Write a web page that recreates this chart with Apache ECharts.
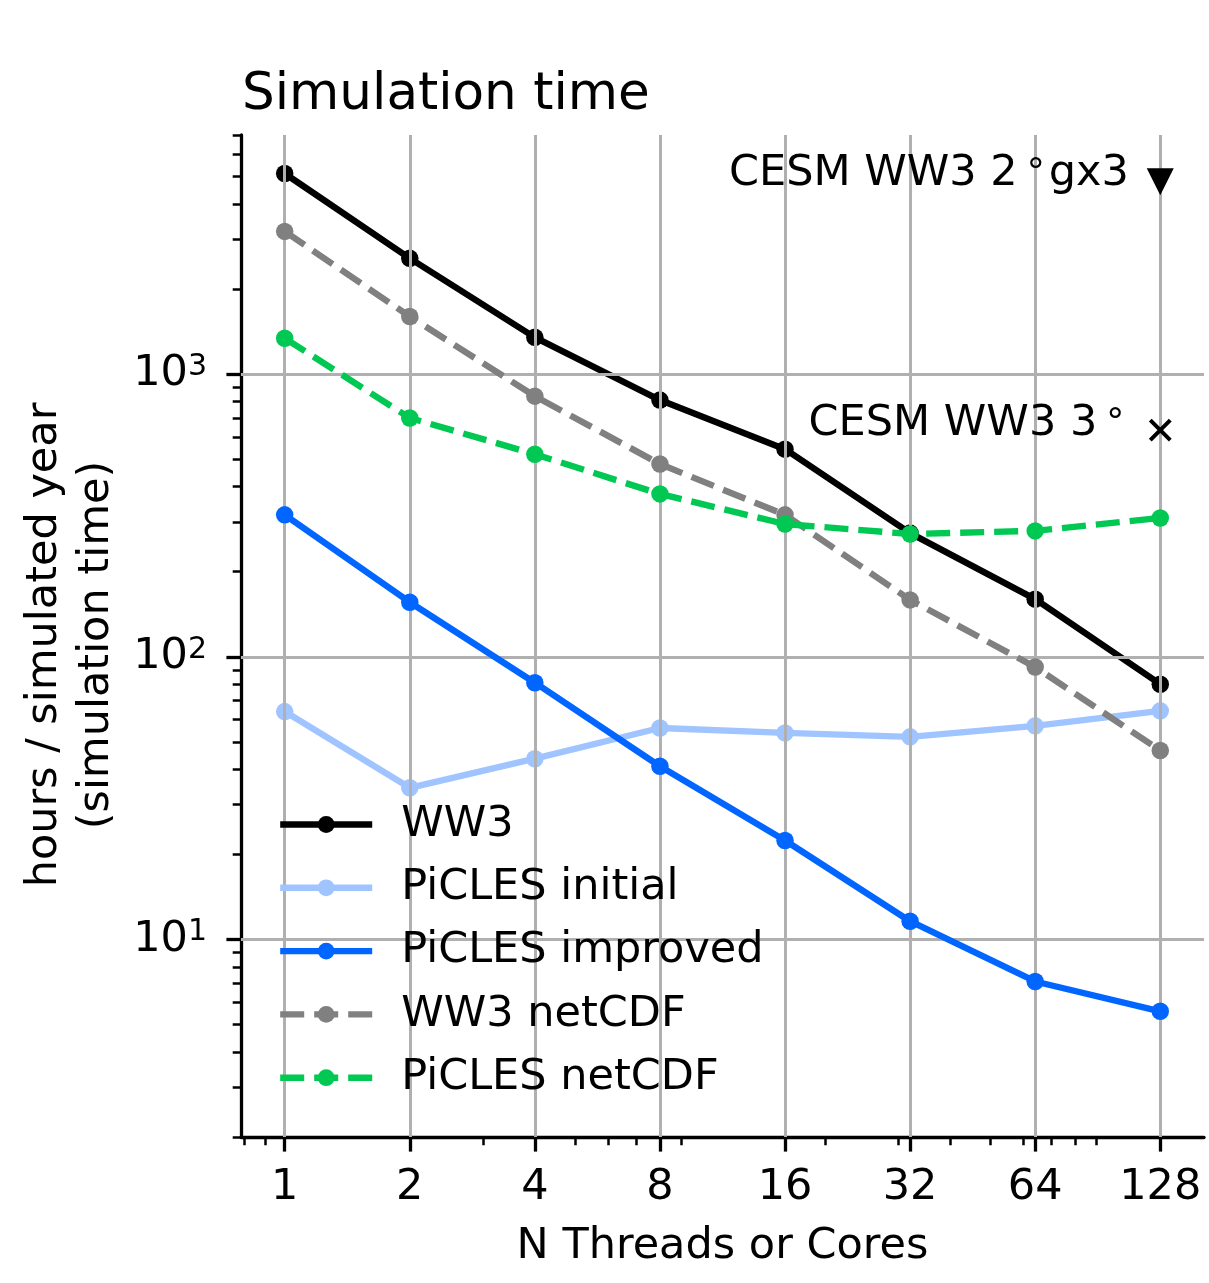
<!DOCTYPE html>
<html>
<head>
<meta charset="utf-8">
<title>Simulation time</title>
<script src="https://cdn.jsdelivr.net/npm/echarts@6/dist/echarts.min.js"></script>
<style>
  html, body { margin: 0; padding: 0; background: #ffffff; }
  #chart { width: 1209px; height: 1283px; }
</style>
</head>
<body>
<div id="chart"></div>
<script>
// Thread / core counts on the x axis
const threads = [1, 2, 4, 8, 16, 32, 64, 128];

// Hours per simulated year for each configuration
const ww3            = [5130, 2570, 1350, 810, 543, 274, 160, 80];
const piclesInitial  = [64, 34.4, 43.6, 56, 53.8, 52.1, 57, 64.4];
const piclesImproved = [318, 156, 81, 41, 22.4, 11.6, 7.1, 5.57];
const ww3NetCDF      = [3200, 1600, 836, 481, 318, 159, 92, 46.6];
const piclesNetCDF   = [1340, 700, 521, 377, 295, 272, 279, 310];

// Reference CESM runs at 128 cores
const cesmGx3Point = [128, 4800];
const cesm3degPoint = [128, 634];

// Tick positions
const xMajorTicks = [1, 2, 4, 8, 16, 32, 64, 128];
const xMinorTicks = [0.8, 0.9, 3, 5, 6, 7, 9, 20, 30, 40, 50, 60, 70, 80, 90];
const yMajorTicks = [10, 100, 1000];
const yMinorTicks = [2, 3, 4, 5, 6, 7, 8, 9,
                     20, 30, 40, 50, 60, 70, 80, 90,
                     200, 300, 400, 500, 600, 700, 800, 900,
                     2000, 3000, 4000, 5000, 6000, 7000];

const FONT = 'DejaVu Sans';
const FS = 43;
const LW = 6.4;
const GRID_COLOR = '#b0b0b0';
const X_MIN = 0.785, X_MAX = 163.1;
const Y_MIN = 2, Y_MAX = 7020;

function toPoints(vals) {
  return threads.map((t, i) => [t, vals[i]]);
}

function lineSeries(name, vals, color, dashed, z) {
  return {
    type: 'line',
    name: name,
    data: toPoints(vals),
    symbol: 'circle',
    symbolSize: 17.5,
    showSymbol: true,
    z: z,
    lineStyle: { color: color, width: LW, type: dashed ? [24, 10] : 'solid', cap: 'butt' },
    itemStyle: { color: color, borderWidth: 0, opacity: 1 },
    emphasis: { disabled: true },
    silent: true,
    animation: false
  };
}

// label style shared by the two CESM annotations; the degree ring is a smaller raised glyph
function cesmLabel(text, distance, dy) {
  return {
    show: true,
    position: 'left',
    distance: distance,
    offset: [0, dy],
    formatter: text,
    fontFamily: FONT, fontSize: FS, color: '#000', lineHeight: 43,
    rich: {
      d: { fontFamily: FONT, fontSize: 36, color: '#000', padding: [0, 4, 0, 9] }
    }
  };
}

const chart = echarts.init(document.getElementById('chart'), null, { renderer: 'canvas' });

const option = {
  backgroundColor: '#ffffff',
  animation: false,
  textStyle: { fontFamily: FONT },
  title: {
    text: 'Simulation time',
    left: 242,
    top: 70,
    padding: 0,
    textStyle: { fontFamily: FONT, fontSize: 51.6, fontWeight: 'normal', color: '#000', lineHeight: 52 }
  },
  grid: {
    left: 241, right: 5, top: 135, bottom: 146,
    containLabel: false,
    outerBoundsMode: 'none'
  },
  legend: {
    data: ['WW3', 'PiCLES initial', 'PiCLES improved', 'WW3 netCDF', 'PiCLES netCDF'],
    orient: 'vertical',
    left: 277,
    top: 803,
    padding: 0,
    z: 10,
    itemWidth: 92,
    itemHeight: 21,
    itemGap: 20.3,
    selectedMode: false,
    lineStyle: { width: LW },
    textStyle: { fontFamily: FONT, fontSize: FS, color: '#000', lineHeight: 43, padding: [0, 0, 0, 24] }
  },
  xAxis: [
    {
      type: 'log',
      logBase: 2,
      position: 'bottom',
      min: X_MIN,
      max: X_MAX,
      splitNumber: 8,
      name: 'N Threads or Cores',
      nameLocation: 'middle',
      nameGap: 88,
      nameTextStyle: { fontFamily: FONT, fontSize: FS, color: '#000', lineHeight: 43 },
      axisLine: { show: true, onZero: false, lineStyle: { color: '#000', width: 3.3 } },
      axisTick: { show: true, customValues: xMajorTicks, length: 14.6, lineStyle: { color: '#000', width: 3.3 } },
      axisLabel: {
        show: true, customValues: xMajorTicks, margin: 29,
        fontFamily: FONT, fontSize: FS, color: '#000', lineHeight: 43,
        formatter: v => String(Math.round(v))
      },
      splitLine: { show: false },
      minorTick: { show: false },
      minorSplitLine: { show: false }
    },
    {
      // minor ticks only
      type: 'log',
      logBase: 2,
      position: 'bottom',
      min: X_MIN,
      max: X_MAX,
      splitNumber: 8,
      axisLine: { show: false },
      axisTick: { show: true, customValues: xMinorTicks, length: 8.3, lineStyle: { color: '#000', width: 2.5 } },
      axisLabel: { show: false },
      splitLine: { show: false }
    }
  ],
  yAxis: [
    {
      type: 'log',
      logBase: 10,
      position: 'left',
      min: Y_MIN,
      max: Y_MAX,
      name: 'hours / simulated year\n(simulation time)',
      nameLocation: 'middle',
      nameRotate: 90,
      nameGap: 118,
      nameTextStyle: { fontFamily: FONT, fontSize: FS, color: '#000', lineHeight: 51.6, align: 'center',
                       padding: [0, 18, 0, 0] },
      axisLine: { show: true, onZero: false, lineStyle: { color: '#000', width: 3.3 } },
      axisTick: { show: true, customValues: yMajorTicks, length: 14.6, lineStyle: { color: '#000', width: 3.3 } },
      axisLabel: {
        show: true, customValues: yMajorTicks, margin: 34,
        color: '#000',
        formatter: v => '{b|10}{s|' + Math.round(Math.log10(v)) + '}',
        rich: {
          b: { fontFamily: FONT, fontSize: FS, color: '#000', lineHeight: 44 },
          s: { fontFamily: FONT, fontSize: 30, color: '#000', lineHeight: 21, verticalAlign: 'top' }
        }
      },
      splitLine: { show: false },
      minorTick: { show: false },
      minorSplitLine: { show: false }
    },
    {
      // minor ticks only
      type: 'log',
      logBase: 10,
      position: 'left',
      min: Y_MIN,
      max: Y_MAX,
      axisLine: { show: false },
      axisTick: { show: true, customValues: yMinorTicks, length: 8.3, lineStyle: { color: '#000', width: 2.5 } },
      axisLabel: { show: false },
      splitLine: { show: false }
    }
  ],
  series: [
    {
      // major grid lines at the labelled ticks
      type: 'line',
      name: 'grid',
      data: [],
      z: 1,
      silent: true,
      markLine: {
        silent: true,
        animation: false,
        symbol: 'none',
        label: { show: false },
        emphasis: { disabled: true },
        lineStyle: { color: GRID_COLOR, width: 3, type: 'solid' },
        data: xMajorTicks.map(v => ({ xAxis: v })).concat(yMajorTicks.map(v => ({ yAxis: v })))
      }
    },
    lineSeries('WW3', ww3, '#000000', false, 3),
    lineSeries('PiCLES initial', piclesInitial, '#a0c4ff', false, 4),
    lineSeries('PiCLES improved', piclesImproved, '#0066ff', false, 5),
    lineSeries('WW3 netCDF', ww3NetCDF, '#808080', true, 6),
    lineSeries('PiCLES netCDF', piclesNetCDF, '#00c853', true, 7),
    {
      type: 'scatter',
      name: 'CESM WW3 2° gx3',
      data: [cesmGx3Point],
      symbol: 'triangle',
      symbolRotate: 180,
      symbolSize: 27,
      z: 8,
      silent: true,
      itemStyle: { color: '#000', opacity: 1 },
      label: cesmLabel('CESM WW3 2{d|°}gx3', 18, -8),
      emphasis: { disabled: true }
    },
    {
      type: 'scatter',
      name: 'CESM WW3 3°',
      data: [cesm3degPoint],
      symbol: 'path://M0,0L20,20M20,0L0,20',
      symbolSize: 20,
      z: 8,
      silent: true,
      itemStyle: { color: 'rgba(0,0,0,0)', borderColor: '#000', borderWidth: 4, opacity: 1 },
      label: cesmLabel('CESM WW3 3{d|°}', 20, -6),
      emphasis: { disabled: true }
    }
  ]
};

chart.setOption(option);
</script>
</body>
</html>
